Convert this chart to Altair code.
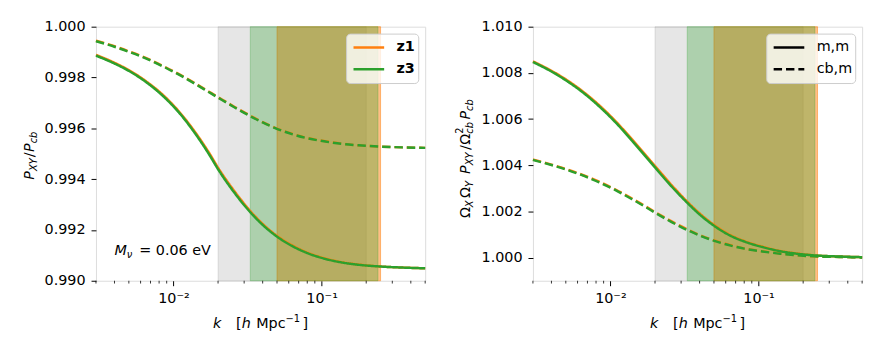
import altair as alt
import pandas as pd

FONT = "DejaVu Sans"
ORANGE = "#ff7f0e"
GREEN = "#2ca02c"

# ---------------- data ----------------
K = [0.003, 0.004, 0.005, 0.0065, 0.0084, 0.0109, 0.014, 0.0175, 0.0201, 0.0259,
     0.0332, 0.04, 0.0486, 0.065, 0.08, 0.106, 0.14, 0.177, 0.25, 0.35, 0.5]

# left panel: P_XY / P_cb
L_MM_Z1 = [0.99889, 0.99858, 0.99829, 0.99786, 0.99734, 0.99666, 0.99585, 0.99501, 0.99443, 0.99351,
           0.99273, 0.99224, 0.99182, 0.99136, 0.99111, 0.99088, 0.99072, 0.99064, 0.99056, 0.99052, 0.99049]
L_MM_Z3 = [0.99886, 0.99855, 0.99826, 0.99783, 0.99730, 0.99662, 0.99580, 0.99495, 0.99437, 0.99345,
           0.99268, 0.99220, 0.99179, 0.99133, 0.99109, 0.99086, 0.99071, 0.99063, 0.99056, 0.99052, 0.99049]
L_CB_Z1 = [0.99945, 0.99923, 0.99903, 0.99877, 0.99847, 0.99813, 0.99777, 0.99743, 0.99722, 0.99684,
           0.99649, 0.99624, 0.99602, 0.99576, 0.99562, 0.99549, 0.99539, 0.99533, 0.99528, 0.99525, 0.99523]
L_CB_Z3 = [0.99943, 0.99921, 0.99901, 0.99875, 0.99845, 0.99811, 0.99775, 0.99741, 0.99720, 0.99682,
           0.99647, 0.99623, 0.99601, 0.99575, 0.99561, 0.99548, 0.99538, 0.99533, 0.99528, 0.99525, 0.99523]

# right panel: Omega_X Omega_Y P_XY / Omega_cb^2 P_cb
R_MM_Z1 = [1.00850, 1.00809, 1.00772, 1.00720, 1.00660, 1.00589, 1.00512, 1.00440, 1.00395, 1.00314,
           1.00241, 1.00192, 1.00148, 1.00097, 1.00072, 1.00048, 1.00029, 1.00019, 1.00009, 1.00005, 1.00002]
R_MM_Z3 = [1.00847, 1.00806, 1.00768, 1.00716, 1.00655, 1.00584, 1.00506, 1.00434, 1.00389, 1.00308,
           1.00236, 1.00187, 1.00144, 1.00094, 1.00070, 1.00046, 1.00028, 1.00018, 1.00009, 1.00005, 1.00002]
R_CB_Z1 = [1.00425, 1.00403, 1.00384, 1.00358, 1.00329, 1.00294, 1.00256, 1.00220, 1.00197, 1.00157,
           1.00122, 1.00098, 1.00078, 1.00054, 1.00040, 1.00028, 1.00018, 1.00011, 1.00005, 1.00003, 1.00001]
R_CB_Z3 = [1.00423, 1.00401, 1.00382, 1.00356, 1.00326, 1.00291, 1.00253, 1.00217, 1.00194, 1.00154,
           1.00119, 1.00096, 1.00076, 1.00052, 1.00039, 1.00027, 1.00017, 1.00011, 1.00005, 1.00003, 1.00001]

SERIES = ["z1", "z3"]
TYPES = ["m,m", "cb,m"]

BAND_GRAY = [0.02, 0.2]
BAND_Z1 = [0.05, 0.25]
BAND_Z3 = [0.033, 0.24]

X_DOMAIN = [0.003, 0.5]
X_MAJOR = [0.01, 0.1]
X_MINOR = [0.003, 0.004, 0.005, 0.006, 0.007, 0.008, 0.009,
           0.02, 0.03, 0.04, 0.05, 0.06, 0.07, 0.08, 0.09,
           0.2, 0.3, 0.4, 0.5]

L_Y_DOMAIN = [0.990, 1.000]
L_Y_TICKS = [0.990, 0.992, 0.994, 0.996, 0.998, 1.000]
R_Y_DOMAIN = [0.999, 1.010]
R_Y_TICKS = [1.000, 1.002, 1.004, 1.006, 1.008, 1.010]

ANNOT_K = [0.004]
ANNOT_V = [0.99101]

# ---------------- layout ----------------
W, H = 333, 257
FS = 14.5
SUB = 10
ONE = pd.DataFrame({"_": [0]})

ADV = {"P": 0.603, "X": 0.685, "Y": 0.611, "/": 0.337, "c": 0.550, "b": 0.635,
       "Ω": 0.764, "2": 0.636, "k": 0.579, "h": 0.634, "[": 0.390, "]": 0.390,
       "M": 0.863, "p": 0.635, "−": 0.838, "1": 0.636, " ": 0.318}


def adv(s, size):
    return sum(ADV.get(ch, 0.6) for ch in s) * size


def tmark(text, x, y, size, italic, angle=0):
    return alt.Chart(ONE).mark_text(
        text=text, align="left", baseline="alphabetic", angle=angle,
        fontSize=size, font=FONT, fontStyle="italic" if italic else "normal",
        color="black",
    ).encode(x=alt.value(x), y=alt.value(y))


def rotated_title(pieces, base_x, center_y):
    total = sum(adv(t, s) + e for t, s, i, sh, e in pieces)
    y = center_y + total / 2
    out = []
    for t, s, it, sh, e in pieces:
        out.append(tmark(t, base_x + sh, y, s, it, angle=270))
        y -= adv(t, s) + e
    return out


def horizontal_title(pieces, center_x, base_y):
    total = sum(adv(t, s) + e for t, s, i, sh, e in pieces)
    x = center_x - total / 2
    out = []
    for t, s, it, sh, e in pieces:
        out.append(tmark(t, x, base_y + sh, s, it))
        x += adv(t, s) + e
    return out


X_TITLE = [("k", FS, True, 0, 15.0), ("[", FS, False, 0, 0), ("h", FS, True, 0, 5.5),
           ("Mpc", FS, False, 0, 0), ("−1", SUB, False, -6, 2.5), ("]", FS, False, 0, 0)]

LEFT_Y_TITLE = [("P", FS, True, 0, 0), ("XY", SUB, True, 3, 1.0), ("/", FS, False, 0, 0.5),
                ("P", FS, True, 0, 0), ("cb", SUB, True, 3, 0)]

RIGHT_Y_TITLE = [("Ω", FS, False, 0, 0), ("X", SUB, True, 3.5, 2.5),
                 ("Ω", FS, False, 0, 0), ("Y", SUB, True, 3.5, 7.0),
                 ("P", FS, True, 0, 0), ("XY", SUB, True, 3.5, 2.5), ("/", FS, False, 0, 0.5),
                 ("Ω", FS, False, 0, 0),
                 ("2", SUB, False, -6.5, -adv("2", SUB)), ("cb", SUB, True, 3.5, 2.5),
                 ("P", FS, True, 0, 0), ("cb", SUB, True, 3.5, 0)]

xscale = alt.Scale(type="log", domain=X_DOMAIN, nice=False)
xaxis = alt.Axis(values=X_MAJOR, labelExpr="datum.value < 0.05 ? '10⁻²' : '10⁻¹'",
                 title=None, grid=False, domain=False, tickSize=5, tickColor="black",
                 labelPadding=6, labelColor="black", labelFontSize=FS, labelFont=FONT)

dash_scale = alt.Scale(domain=TYPES, range=[[1, 0], [8.5, 4]])
color_scale = alt.Scale(domain=SERIES, range=[ORANGE, GREEN])


def legend(bold, black):
    kw = dict(title=None, orient="top-right", offset=7,
              fillColor="rgba(255,255,255,0.8)", strokeColor="#cccccc", cornerRadius=4,
              padding=3, symbolType="stroke", symbolSize=961, symbolStrokeWidth=2.5,
              clipHeight=22, rowPadding=0, labelFontSize=FS, labelFont=FONT,
              labelColor="black", symbolOffset=3, labelOffset=11)
    if bold:
        kw["labelFontWeight"] = "bold"
    if black:
        kw["symbolStrokeColor"] = "black"
    return alt.Legend(**kw)


def panel(mm_z1, mm_z3, cb_z1, cb_z3, ydom, yticks, left, ytitle, base_x):
    yscale = alt.Scale(domain=ydom, nice=False, zero=False)
    yaxis = alt.Axis(values=yticks, format=".3f", title=None, grid=False, domain=False,
                     tickSize=5, tickColor="black", labelPadding=6, labelColor="black",
                     labelFontSize=FS, labelFont=FONT)
    X = alt.X("k:Q", scale=xscale, axis=xaxis)

    def band(rng, color, op):
        df = pd.DataFrame({"k": [rng[0]], "k2": [rng[1]]})
        return alt.Chart(df).mark_rect(color=color, fillOpacity=op, stroke=color,
                                       strokeOpacity=op, strokeWidth=1).encode(
            x=X, x2="k2:Q", y=alt.value(0), y2=alt.value(H))

    bands = [band(BAND_GRAY, "#808080", 0.2), band(BAND_Z1, ORANGE, 0.5),
             band(BAND_Z3, GREEN, 0.3)]

    minor = alt.Chart(pd.DataFrame({"k": X_MINOR})).mark_rule(
        color="black", strokeWidth=0.8).encode(x=X, y=alt.value(H), y2=alt.value(H + 2.8))

    col_leg = legend(True, False) if left else None
    dash_leg = None if left else legend(False, True)

    def lines(z, mm, cb):
        df = pd.DataFrame({"k": K * 2, "v": mm + cb, "z": z,
                           "type": ["m,m"] * len(K) + ["cb,m"] * len(K)})
        return alt.Chart(df).mark_line(strokeWidth=2.5, interpolate="monotone").encode(
            x=X, y=alt.Y("v:Q", scale=yscale, axis=yaxis),
            color=alt.Color("z:N", scale=color_scale, legend=col_leg),
            strokeDash=alt.StrokeDash("type:N", scale=dash_scale, legend=dash_leg),
            detail="type:N")

    layers = bands + [minor, lines("z1", mm_z1, cb_z1), lines("z3", mm_z3, cb_z3)]

    if left:
        adf = pd.DataFrame({"k": ANNOT_K, "v": ANNOT_V})
        Y = alt.Y("v:Q", scale=yscale, axis=yaxis)
        for t, size, it, dx, dy in [("M", FS, True, 0, 0), ("ν", SUB, True, 12.5, 3),
                                    ("= 0.06 eV", FS, False, 25, 0)]:
            layers.append(alt.Chart(adf).mark_text(
                text=t, align="left", baseline="alphabetic", fontSize=size, font=FONT,
                fontStyle="italic" if it else "normal", color="black", dx=dx, dy=dy
            ).encode(x=X, y=Y))

    layers += rotated_title(ytitle, base_x, H / 2 + (2 if left else 5))
    layers += horizontal_title(X_TITLE, W / 2, H + 48)
    return alt.layer(*layers).properties(width=W, height=H)


left = panel(L_MM_Z1, L_MM_Z3, L_CB_Z1, L_CB_Z3, L_Y_DOMAIN, L_Y_TICKS, True,
             LEFT_Y_TITLE, -62.5)
right = panel(R_MM_Z1, R_MM_Z3, R_CB_Z1, R_CB_Z3, R_Y_DOMAIN, R_Y_TICKS, False,
              RIGHT_Y_TITLE, -64)

chart = alt.hconcat(left, right, spacing=24).resolve_scale(
    y="independent", color="independent", strokeDash="independent"
).properties(
    padding={"left": 14, "top": 8, "right": 5, "bottom": 5}
).configure_view(stroke="black", strokeWidth=1).configure(font=FONT)

chart.save("out.html", embed_options={"renderer": "svg", "actions": False})
